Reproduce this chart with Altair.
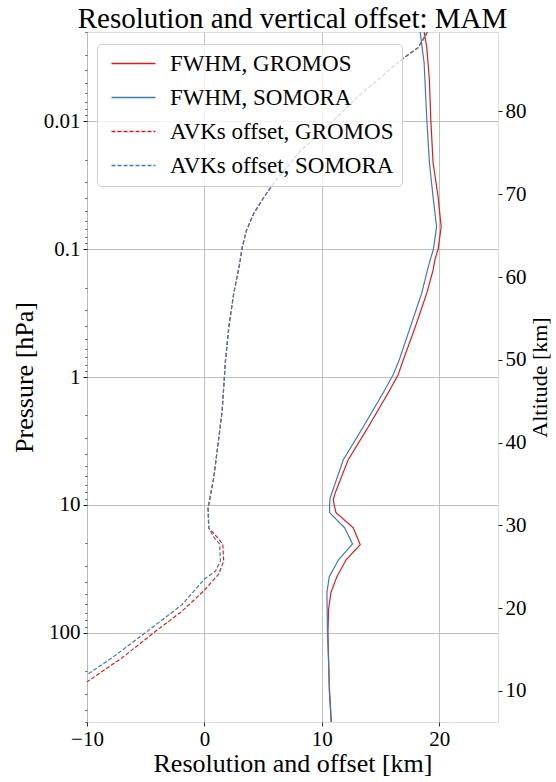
import altair as alt
import pandas as pd

# ---------------- data ----------------
series_names = ["FWHM, GROMOS", "FWHM, SOMORA", "AVKs offset, GROMOS", "AVKs offset, SOMORA"]
series_colors = ["#e41a1c", "#377eb8", "#e41a1c", "#377eb8"]

p_fwhm_gromos = [0.002, 0.00265, 0.0048, 0.0098, 0.021, 0.039, 0.067, 0.10, 0.12, 0.146, 0.22,
                 0.41, 0.74, 0.96, 1.33, 2.46, 4.45, 8.06, 9.1, 10.0, 11.5, 15.1, 20.5, 26.9,
                 36.5, 48.7, 66.0, 100.0, 279.0, 500.0]
fwhm_gromos = [18.71, 18.94, 19.16, 19.28, 19.47, 19.90, 20.16, 19.90, 19.64, 19.47, 18.94,
               17.94, 16.92, 16.50, 15.65, 13.95, 12.24, 11.14, 10.97, 11.05, 11.20, 12.67, 13.27, 12.07,
               11.28, 10.77, 10.57, 10.52, 10.63, 10.80]

p_fwhm_somora = [0.002, 0.0035, 0.0098, 0.021, 0.039, 0.067, 0.10, 0.122, 0.146, 0.22, 0.41,
                 0.74, 0.96, 1.33, 2.46, 4.45, 8.06, 8.8, 10.0, 11.5, 15.1, 20.2, 26.9, 36.5,
                 48.7, 100.0, 279.0, 500.0]
fwhm_somora = [18.37, 18.71, 18.94, 19.16, 19.47, 19.77, 19.50, 19.22, 18.99, 18.51, 17.52,
               16.58, 16.07, 15.22, 13.52, 11.82, 10.86, 10.71, 10.66, 10.66, 11.93, 12.61, 11.42, 10.63,
               10.43, 10.48, 10.66, 10.80]

p_off_upper = [0.002, 0.00265, 0.00335, 0.00455, 0.00652, 0.0118, 0.0170, 0.0214, 0.0291, 0.0396,
               0.0528, 0.0718, 0.0975, 0.130, 0.223, 0.412, 0.748, 1.84, 3.34, 6.17, 10.6, 15.2]
off_upper = [19.0, 18.20, 16.67, 14.97, 12.98, 10.12, 8.16, 7.31, 6.04, 5.04,
             4.19, 3.57, 3.21, 3.00, 2.49, 2.07, 1.79, 1.51, 1.16, 0.79, 0.31, 0.37]

p_off_gromos_low = [17.9, 20.3, 27.5, 34.8, 46.5, 67.9, 100.0, 157.0, 247.0]
off_gromos_low = [1.08, 1.56, 1.64, 1.22, 0.0, -1.90, -4.31, -7.00, -10.12]

p_off_somora_low = [17.9, 20.3, 27.5, 33.0, 38.0, 60.4, 100.0, 157.0, 217.0]
off_somora_low = [0.79, 1.30, 1.36, 0.94, 0.0, -1.90, -5.02, -7.85, -10.12]

x_ticks = [-10, 0, 10, 20]
p_major = [0.01, 0.1, 1, 10, 100]
alt_ticks = [10, 20, 30, 40, 50, 60, 70, 80]
p_domain = [0.002, 500]
alt_domain = [6.25, 89.6]
x_domain = [-10, 25]

# ---------------- build table ----------------
rows = []
def add(name, ps, vs):
    for i, (p, v) in enumerate(zip(ps, vs)):
        rows.append({"series": name, "p": p, "v": v, "i": i})

add(series_names[0], p_fwhm_gromos, fwhm_gromos)
add(series_names[1], p_fwhm_somora, fwhm_somora)
add(series_names[2], p_off_upper + p_off_gromos_low, off_upper + off_gromos_low)
add(series_names[3], p_off_upper + p_off_somora_low, off_upper + off_somora_low)
df = pd.DataFrame(rows)

minor_vals = []
for e in range(-3, 3):
    for m in range(2, 10):
        val = round(m * 10 ** e, 6)
        if p_domain[0] <= val <= p_domain[1]:
            minor_vals.append(val)
left_vals = sorted(set(minor_vals + p_major))

FONT = "Liberation Serif"
is_major = "abs(log(datum.value)/LN10 - round(log(datum.value)/LN10)) < 1e-6"

legend = alt.Legend(
    title=None, orient="none", legendX=10, legendY=12,
    symbolType="M-0.625,0H4.875", symbolSize=256, symbolStrokeWidth=1.3,
    labelFont=FONT, labelFontSize=23, labelColor="black", labelOffset=42, labelLimit=400,
    rowPadding=10, padding=8, fillColor="rgba(255,255,255,0.8)",
    strokeColor="#d0d0d0", cornerRadius=4,
)

lines = alt.Chart(df).mark_line(strokeWidth=1.2, clip=True).encode(
    x=alt.X("v:Q", scale=alt.Scale(domain=x_domain, nice=False, zero=False),
            axis=alt.Axis(values=x_ticks, title="Resolution and offset [km]", grid=True,
                          gridColor="#b0b0b0", gridWidth=0.8, tickSize=4, tickColor="black",
                          tickWidth=0.8, labelFont=FONT, labelFontSize=21, labelColor="black",
                          labelPadding=2, labelFlush=False,
                          titleFont=FONT, titleFontSize=26, titleFontWeight="normal",
                          titleColor="black", titlePadding=1, domain=False)),
    y=alt.Y("p:Q", scale=alt.Scale(type="log", domain=p_domain, reverse=True, nice=False),
            axis=alt.Axis(values=left_vals, title="Pressure [hPa]",
                          labelExpr=f"({is_major}) ? format(datum.value, '~g') : ''",
                          grid=True, gridColor="#b0b0b0", gridWidth=0.8,
                          gridOpacity={"condition": {"test": is_major, "value": 1}, "value": 0},
                          tickSize={"condition": {"test": is_major, "value": 4}, "value": 2.2},
                          tickWidth={"condition": {"test": is_major, "value": 0.9}, "value": 0.6},
                          tickColor="black", labelOverlap=False, labelFlush=False,
                          labelFont=FONT, labelFontSize=21, labelColor="black", labelPadding=3,
                          titleFont=FONT, titleFontSize=26, titleFontWeight="normal",
                          titleColor="black", titlePadding=6, domain=False)),
    color=alt.Color("series:N", scale=alt.Scale(domain=series_names, range=series_colors), legend=legend),
    strokeDash=alt.StrokeDash("series:N", scale=alt.Scale(domain=series_names,
                              range=[[1, 0], [1, 0], [4, 2], [4, 2]]), legend=legend),
    order=alt.Order("i:Q"),
    detail="series:N",
)

alt_df = pd.DataFrame({"altitude": alt_domain})
right = alt.Chart(alt_df).mark_point(opacity=0).encode(
    y=alt.Y("altitude:Q", scale=alt.Scale(domain=alt_domain, nice=False, zero=False),
            axis=alt.Axis(orient="right", values=alt_ticks, title="Altitude [km]", grid=False,
                          tickSize=4, tickColor="black", tickWidth=0.9, labelFlush=False,
                          labelFont=FONT, labelFontSize=21, labelColor="black", labelPadding=3,
                          titleFont=FONT, titleFontSize=22, titleFontWeight="normal",
                          titleColor="black", titleAngle=270, titleAlign="center",
                          titleBaseline="middle", titleX=41, titleY=345, domain=False)),
)

chart = alt.layer(lines, right).resolve_scale(y="independent").properties(
    width=411, height=690,
    title=alt.TitleParams("Resolution and vertical offset: MAM", font=FONT, fontSize=29,
                          fontWeight="normal", color="black", anchor="middle", offset=6, dy=19),
    autosize=alt.AutoSizeParams(type="none"),
    padding={"left": 87, "top": 32, "right": 58, "bottom": 60},
).configure_view(stroke="black", strokeWidth=1).configure(background="white")

chart.save("out.html", embed_options={"renderer": "svg", "actions": False})
